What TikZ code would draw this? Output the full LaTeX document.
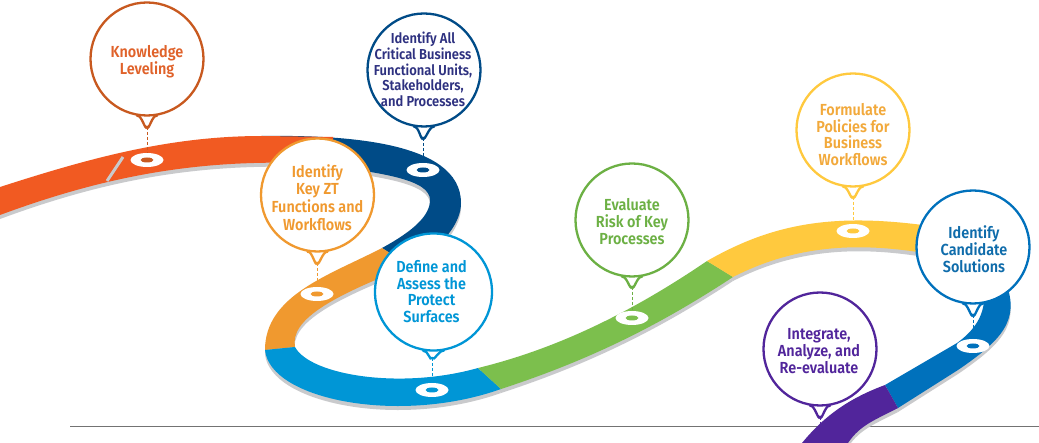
\documentclass[tikz,border=0pt]{standalone}
\usepackage{fontspec}
\setmainfont[FakeStretch=0.9]{Fira Sans SemiBold}
\usetikzlibrary{shapes.geometric,calc}
\definecolor{cOrange}{HTML}{F15A22}\definecolor{cOrangeD}{HTML}{C8591F}\definecolor{cOrangeT}{HTML}{E0622A}
\definecolor{cNavy}{HTML}{004B87}\definecolor{cNavyT}{HTML}{2E3180}
\definecolor{cGold}{HTML}{F0992F}
\definecolor{cSky}{HTML}{0096D6}
\definecolor{cGreen}{HTML}{7CBF4D}\definecolor{cGreenD}{HTML}{6CB044}
\definecolor{cYellow}{HTML}{FFC93E}\definecolor{cYellowT}{HTML}{F2A93B}
\definecolor{cBlue}{HTML}{0071BC}\definecolor{cBlueT}{HTML}{0F6CAB}
\definecolor{cPurple}{HTML}{51259B}
\definecolor{cShadow}{HTML}{C9CACC}
\tikzset{
  bubble/.style={circle,draw=#1,line width=2.3pt,fill=white,minimum size=113pt,inner sep=0pt},
  caption/.style={align=center,inner sep=0pt,font=\fontsize{16}{17}\selectfont},
  hole/.style={ellipse,fill=white,minimum width=33pt,minimum height=14pt,inner sep=0pt},
  dot/.style={ellipse,fill=#1,minimum width=13pt,minimum height=5pt,inner sep=0pt},
  stem/.style={draw=#1,line width=1pt,dash pattern=on 3pt off 2pt},
}
% name, colour, tip
\newcommand{\bubbletip}[3]{%
  \fill[white] ($(#1.-100)+(0pt,-2.5pt)$) -- (#1.-100) -- (#3) -- (#1.-80) -- ($(#1.-80)+(0pt,-2.5pt)$) -- cycle;
  \draw[#2,line width=2.3pt,line join=miter,line cap=round] (#1.-100) .. controls ($(#1.-100)+(5pt,1pt)$) and ($(#3)+(-2pt,-4pt)$) .. (#3) .. controls ($(#3)+(2pt,-4pt)$) and ($(#1.-80)+(-5pt,1pt)$) .. (#1.-80);
}
\newcommand{\rOrange}{(0,187) .. controls (90,158) and (170,136) .. (262,136) -- (333,137) -- (333,165) -- (300,163) .. controls (190,160) and (100,178) .. (0,215) -- cycle}
\newcommand{\rNavy}{(262,136) .. controls (340,135) and (461,140) .. (461,203) .. controls (461,222) and (445,245) .. (410,266) -- (382,248) .. controls (415,230) and (430,215) .. (430,200) .. controls (430,180) and (385,172) .. (300,163) -- cycle}
\newcommand{\rGold}{(382,248) .. controls (330,275) and (265,295) .. (265,350) -- (295,347) .. controls (290,320) and (330,297) .. (410,266) -- cycle}
\newcommand{\rSky}{(265,350) .. controls (270,400) and (400,425) .. (501,389) -- (478,368) .. controls (400,390) and (310,375) .. (295,347) -- cycle}
\newcommand{\rGreen}{(478,368) .. controls (560,348) and (635,310) .. (707,261) -- (733,277) .. controls (660,325) and (590,360) .. (501,389) -- cycle}
\newcommand{\rYellow}{(707,261) .. controls (770,225) and (830,212) .. (930,226) -- (930,254) .. controls (850,240) and (790,248) .. (733,277) -- cycle}
\newcommand{\rBlue}{(1006,283) .. controls (1020,320) and (1002,340) .. (958,370) -- (898,408) -- (885,385) -- (957,343) .. controls (975,330) and (984,315) .. (984,298) -- cycle}
\newcommand{\rPurple}{(885,385) .. controls (850,398) and (825,415) .. (802,443) -- (848,443) .. controls (860,425) and (875,420) .. (898,408) -- cycle}
\begin{document}
\begin{tikzpicture}[x=1pt,y=-1pt]
\useasboundingbox (0,0) rectangle (1039,443);
\fill[white] (0,0) rectangle (1039,443);
\clip (0,0) rectangle (1039,443);
% baseline
\draw[draw=black!55,line width=1pt] (70,427) -- (1039,427);
% ribbon shadows
\begin{scope}[shift={(0,4)}]
\fill[cShadow] \rOrange; \fill[cShadow] \rNavy; \fill[cShadow] \rGold; \fill[cShadow] \rSky;
\fill[cShadow] \rGreen; \fill[cShadow] \rYellow; \fill[cShadow] \rBlue; \fill[cShadow] \rPurple;
\end{scope}
% ribbon segments
\fill[cNavy] \rNavy;
\fill[cOrange] \rOrange;
\fill[cGold] \rGold;
\fill[cSky] \rSky;
\fill[cGreen] \rGreen;
\fill[cYellow] \rYellow;
\fill[cBlue] \rBlue;
\fill[cPurple] \rPurple;
\draw[cShadow,line width=3pt] (123,157) -- (107,181);
% stops on the ribbon
\node[hole] (h1) at (147,160) {}; \node[dot=cOrangeD] (d1) at (h1) {};
\node[hole] (h2) at (423,170) {}; \node[dot=cNavy] (d2) at (h2) {};
\node[hole] (h3) at (317,294) {}; \node[dot=cGold] (d3) at (h3) {};
\node[hole] (h4) at (432,390) {}; \node[dot=cSky] (d4) at (h4) {};
\node[hole] (h5) at (632,318) {}; \node[dot=cGreen] (d5) at (h5) {};
\node[hole] (h6) at (853,231) {}; \node[dot=cYellow] (d6) at (h6) {};
\node[hole] (h7) at (973,346) {}; \node[dot=cBlue] (d7) at (h7) {};
% tips
\coordinate (t1) at (147,127);
\coordinate (t2) at (423,138);
\coordinate (t3) at (317,263);
\coordinate (t4) at (432,358);
\coordinate (t5) at (632,287);
\coordinate (t6) at (853,197);
\coordinate (t7) at (973,315);
\coordinate (t8) at (820,417);
\coordinate (e8) at (820,427);
% dashed stems
\draw[stem=cOrangeD] (t1) -- (h1.north);
\draw[stem=cNavy] (t2) -- (h2.north);
\draw[stem=cGold] (t3) -- (h3.north);
\draw[stem=cSky] (t4) -- (h4.north);
\draw[stem=cGreenD] (t5) -- (h5.north);
\draw[stem=cYellow] (t6) -- (h6.north);
\draw[stem=cBlue] (t7) -- (h7.north);
\draw[stem=cPurple] (t8) -- (e8);
% bubbles
\node[bubble=cOrangeD] (b1) at (147,59) {};
\bubbletip{b1}{cOrangeD}{t1}
\node[caption,text=cOrangeT] (l1) at (147,61.5) {Knowledge\\Leveling};
\node[bubble=cNavy] (b2) at (424,70) {};
\bubbletip{b2}{cNavy}{t2}
\node[caption,text=cNavyT,font=\fontsize{14.4}{15.8}\selectfont] (l2) at (423,69.5) {Identify All\\Critical Business\\Functional Units,\\Stakeholders,\\and Processes};
\node[bubble=cGold] (b3) at (317.5,195) {};
\bubbletip{b3}{cGold}{t3}
\node[caption,text=cGold,font=\fontsize{16}{17.7}\selectfont] (l3) at (317.5,197.5) {Identify\\Key ZT\\Functions and\\Workflows};
\node[bubble=cSky,minimum size=117pt] (b4) at (433.5,292) {};
\bubbletip{b4}{cSky}{t4}
\node[caption,text=cSky,font=\fontsize{16}{16.5}\selectfont] (l4) at (431.5,291.5) {Define and\\Assess the\\Protect\\Surfaces};
\node[bubble=cGreenD] (b5) at (632,220) {};
\bubbletip{b5}{cGreenD}{t5}
\node[caption,text=cGreenD] (l5) at (632,222) {Evaluate\\Risk of Key\\Processes};
\node[bubble=cYellow] (b6) at (853,130) {};
\bubbletip{b6}{cYellow}{t6}
\node[caption,text=cYellowT,font=\fontsize{16}{16.5}\selectfont] (l6) at (853,134.5) {Formulate\\Policies for\\Business\\Workflows};
\node[bubble=cBlue] (b7) at (973,247) {};
\bubbletip{b7}{cBlue}{t7}
\node[caption,text=cBlueT] (l7) at (974,249) {Identify\\Candidate\\Solutions};
\node[bubble=cPurple] (b8) at (820,349) {};
\bubbletip{b8}{cPurple}{t8}
\node[caption,text=cPurple] (l8) at (819,351) {Integrate,\\Analyze, and\\Re-evaluate};
\end{tikzpicture}
\end{document}
